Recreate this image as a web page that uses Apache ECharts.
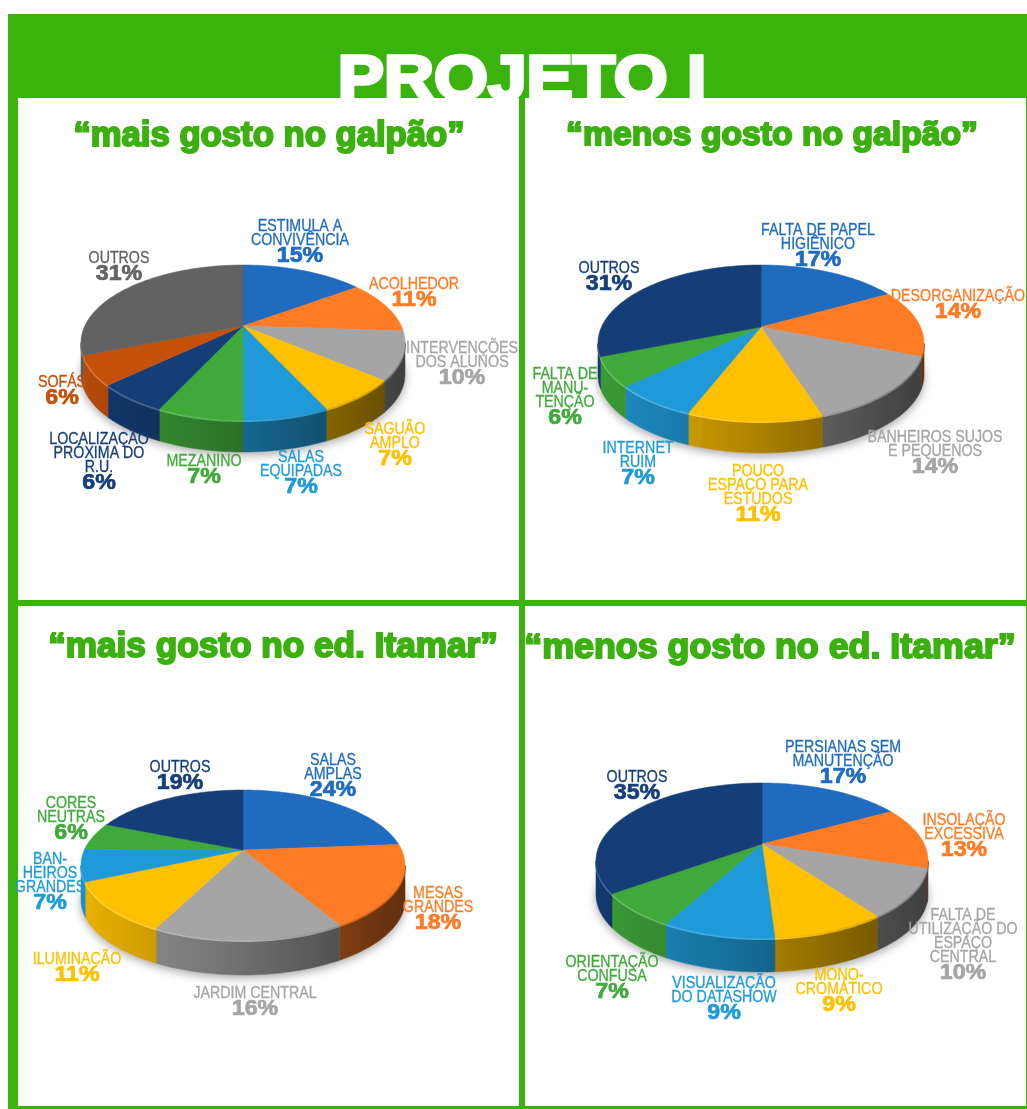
<!DOCTYPE html>
<html><head><meta charset="utf-8">
<style>html,body{margin:0;padding:0;background:#fff}#c{width:1027px;height:1109px}</style>
<script src="https://cdn.jsdelivr.net/npm/echarts@6/dist/echarts.min.js"></script>
</head><body><div id="c"></div>
<script>
// ---------- data ----------
const mainTitle = 'PROJETO I';
const panelTitles = ['“mais gosto no galpão”','“menos gosto no galpão”','“mais gosto no ed. Itamar”','“menos gosto no ed. Itamar”'];

const maisGalpaoNames = ['ESTIMULA A\nCONVIVÊNCIA','ACOLHEDOR','INTERVENÇÕES\nDOS ALUNOS','SAGUÃO\nAMPLO','SALAS\nEQUIPADAS','MEZANINO','LOCALIZAÇÃO\nPRÓXIMA DO\nR.U.','SOFÁS','OUTROS'];
const maisGalpaoValues = [15,11,10,7,7,7,6,6,31];

const menosGalpaoNames = ['FALTA DE PAPEL\nHIGIÊNICO','DESORGANIZAÇÃO','BANHEIROS SUJOS\nE PEQUENOS','POUCO\nESPAÇO PARA\nESTUDOS','INTERNET\nRUIM','FALTA DE\nMANU-\nTENÇÃO','OUTROS'];
const menosGalpaoValues = [17,14,14,11,7,6,31];

const maisItamarNames = ['SALAS\nAMPLAS','MESAS\nGRANDES','JARDIM CENTRAL','ILUMINAÇÃO','BAN-\nHEIROS\nGRANDES','CORES\nNEUTRAS','OUTROS'];
const maisItamarValues = [24,18,16,11,7,6,19];

const menosItamarNames = ['PERSIANAS SEM\nMANUTENÇÃO','INSOLAÇÃO\nEXCESSIVA','FALTA DE\nUTILIZAÇÃO DO\nESPAÇO\nCENTRAL','MONO-\nCROMÁTICO','VISUALIZAÇÃO\nDO DATASHOW','ORIENTAÇÃO\nCONFUSA','OUTROS'];
const menosItamarValues = [17,13,10,9,9,7,35];

// ---------- styles and layout ----------
const BLUE='#1F6BC0',ORANGE='#FF7C24',GRAY='#A5A5A5',YELLOW='#FFC000',SKY='#1F9AD8',GREEN='#3FA93A',NAVY='#153E78',RUST='#C55108',DARK='#626262';
const GREENBG='#3BB30D';
const panels = [
 {names:maisGalpaoNames,values:maisGalpaoValues,colors:[BLUE,ORANGE,GRAY,YELLOW,SKY,GREEN,NAVY,RUST,DARK],
  cx:243,apexY:326,back:61,front:94,rx:162,depth:32,
  anchors:[[300,256],[414,300],[462,378],[395,459],[301,487],[204,477],[99,483],[62,398],[119,274]]},
 {names:menosGalpaoNames,values:menosGalpaoValues,colors:[BLUE,ORANGE,GRAY,YELLOW,SKY,GREEN,NAVY],
  cx:761,apexY:327,back:62,front:94,rx:163,depth:32,
  anchors:[[818,260],[958,312],[935,467],[758,515],[638,478],[565,418],[609,284]]},
 {names:maisItamarNames,values:maisItamarValues,colors:[BLUE,ORANGE,GRAY,YELLOW,SKY,GREEN,NAVY],
  cx:243,apexY:850,back:60,front:90,rx:162,depth:35,
  anchors:[[333,790],[438,923],[255,1009],[77,975],[50,903],[71,833],[180,783]]},
 {names:menosItamarNames,values:menosItamarValues,colors:[BLUE,ORANGE,GRAY,YELLOW,SKY,GREEN,NAVY],
  cx:762,apexY:844,back:61,front:94,rx:166,depth:34,
  anchors:[[843,777],[964,850],[963,973],[839,1005],[724,1013],[612,992],[637,793]]}
];

function shade(hex,f){
  const n=parseInt(hex.slice(1),16),r=n>>16,g=(n>>8)&255,b=n&255;
  const m=v=>Math.max(0,Math.min(255,Math.round(f>1?v+(255-v)*(f-1):v*f)));
  return `rgb(${m(r)},${m(g)},${m(b)})`;
}
// Tilted-disc projection: angle from 12 o'clock, clockwise, to screen point.
function projector(p){
  const k=(p.front-p.back)/(p.front+p.back);
  const a=p.back*(1+k), b=p.rx*Math.sqrt(1-k*k);
  const fn=t=>{const x=Math.sin(t),y=-Math.cos(t),w=1-k*y;return [p.cx+b*x/w,p.apexY+a*y/w];};
  fn.k=k; return fn;
}
function arc(proj,t0,t1){
  const out=[],n=Math.max(2,Math.ceil((t1-t0)/0.03));
  for(let i=0;i<=n;i++) out.push(proj(t0+(t1-t0)*i/n));
  return out;
}
function sliceAngles(p,i){
  const total=p.values.reduce((s,v)=>s+v,0);
  const before=p.values.slice(0,i).reduce((s,v)=>s+v,0);
  return [before/total*2*Math.PI,(before+p.values[i])/total*2*Math.PI];
}
function sideRender(p){
  const proj=projector(p);
  const vis0=Math.acos(-proj.k), vis1=2*Math.PI-vis0;
  return function(params){
    const i=params.dataIndex,[s,e]=sliceAngles(p,i),kids=[];
    if(i===0){
      const ring=arc(proj,0,2*Math.PI).map(q=>[q[0],q[1]+p.depth]);
      kids.push({type:'polygon',z2:-5,shape:{points:ring},
        style:{fill:'#d8d8d8',shadowBlur:10,shadowColor:'rgba(0,0,0,0.35)',shadowOffsetY:3}});
    }
    const t0=Math.max(s,vis0),t1=Math.min(e,vis1);
    if(t1>t0){
      const top=arc(proj,t0,t1),bot=top.map(q=>[q[0],q[1]+p.depth]).reverse();
      const col=p.colors[i];
      const grad=new echarts.graphic.LinearGradient(p.cx-p.rx,0,p.cx+p.rx,0,[
        {offset:0,color:shade(col,0.92)},{offset:0.45,color:shade(col,0.70)},{offset:1,color:shade(col,0.38)}],true);
      kids.push({type:'polygon',shape:{points:top.concat(bot)},style:{fill:grad,stroke:grad,lineWidth:0.5}});
      kids.push({type:'polyline',z2:2,shape:{points:top.map(q=>[q[0],q[1]+1])},
        style:{fill:null,lineWidth:2,stroke:new echarts.graphic.LinearGradient(p.cx-p.rx,0,p.cx+p.rx,0,[
          {offset:0,color:shade(col,1.25)},{offset:0.55,color:shade(col,1.12)},{offset:1,color:shade(col,0.7)}],true)}});
    }
    return {type:'group',children:kids};
  };
}
function topRender(p){
  const proj=projector(p);
  return function(params){
    const i=params.dataIndex,[s,e]=sliceAngles(p,i),col=p.colors[i];
    const pts=[[p.cx,p.apexY]].concat(arc(proj,s,e));
    const [ax,ay]=p.anchors[i];
    const txt=col===DARK?'#636363':col;
    return {type:'group',children:[
      {type:'polygon',shape:{points:pts},style:{fill:col,stroke:col,lineWidth:0.5}},
      {type:'text',z2:20,x:ax,y:ay-9,scaleX:0.9,style:{x:0,y:0,align:'center',verticalAlign:'bottom',
        text:p.names[i],font:'15.8px "Liberation Sans"',lineHeight:13.7,fill:txt,stroke:txt,lineWidth:0.3}},
      {type:'text',z2:21,x:ax,y:ay,scaleX:1.08,style:{x:0,y:0,align:'center',verticalAlign:'middle',
        text:p.values[i]+'%',font:'bold 21.5px "Liberation Sans"',fill:txt,stroke:txt,lineWidth:0.7}}
    ]};
  };
}
const series=[];
panels.forEach(p=>{
  const data=p.values.map((v,i)=>({name:p.names[i].replace(/\n/g,' '),value:[v,i]}));
  series.push({type:'custom',coordinateSystem:'none',z:3,silent:true,data:data,renderItem:sideRender(p)});
  series.push({type:'custom',coordinateSystem:'none',z:4,silent:true,data:data,renderItem:topRender(p)});
});
const rect=(x,y,w,h,fill,z)=>({type:'rect',z:z,silent:true,shape:{x,y,width:w,height:h},style:{fill}});
const option={
  animation:false,
  backgroundColor:'#ffffff',
  title:[...[[269,119,34.7],[772,119,33.7],[273,630,35.2],[770,630,35.8]].map((q,i)=>({text:panelTitles[i],left:q[0],top:q[1],textAlign:'center',padding:0,z:5,
      textStyle:{fontFamily:'Liberation Sans',fontWeight:'bold',fontSize:q[2],color:'#3BB00F',textBorderColor:'#3BB00F',textBorderWidth:2}}))
  ],
  graphic:[
    rect(8,14,1019,1095,GREENBG,0),
    {type:'text',z:1,silent:true,x:522,y:82,scaleX:1.1,style:{x:0,y:0,text:mainTitle,align:'center',verticalAlign:'middle',
      font:'bold 63px "Liberation Sans"',fill:'#ffffff',stroke:'#ffffff',lineWidth:3.5}},
    rect(18,98,501,502,'#ffffff',2),
    rect(525,98,501,502,'#ffffff',2),
    rect(18,606,501,500,'#ffffff',2),
    rect(525,606,501,500,'#ffffff',2)
  ],
  series:series
};
echarts.init(document.getElementById('c'),null,{renderer:'canvas'}).setOption(option);
</script></body></html>
